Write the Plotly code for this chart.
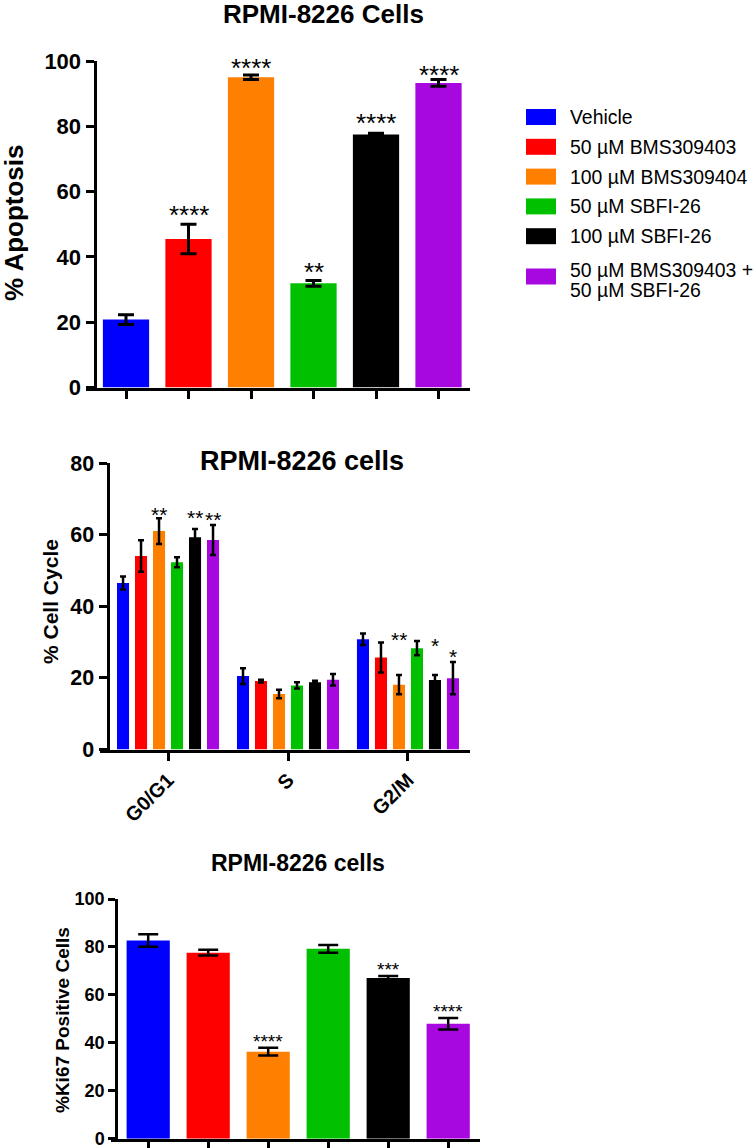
import plotly.graph_objects as go

W, H = 755, 1148
FONT = "Liberation Sans, Arial, Helvetica, sans-serif"

# ---------------- data ----------------
treatments = ["Vehicle", "50 µM BMS309403", "100 µM BMS309404",
              "50 µM SBFI-26", "100 µM SBFI-26",
              "50 µM BMS309403 +<br>50 µM SBFI-26"]
colors = ["#0000FF", "#FF0000", "#FF8000", "#00C000", "#000000", "#A808E0"]

# Panel 1: apoptosis
apoptosis_mean = [20.8, 45.5, 95.0, 31.9, 77.5, 93.3]
apoptosis_err = [1.5, 4.5, 0.7, 0.9, 0.4, 1.0]
apoptosis_sig = ["", "****", "****", "**", "****", "****"]
apoptosis_sig_y = [None, 54.6, 99.7, 37.2, 83.0, 97.4]

# Panel 2: cell cycle (values per phase G0/G1, S, G2/M)
phases = ["G0/G1", "S", "G2/M"]
cycle_vehicle = [46.5, 20.5, 30.8]
cycle_bms50 = [54.0, 19.1, 25.7]
cycle_bms100 = [61.0, 15.5, 18.1]
cycle_sbfi50 = [52.3, 17.9, 28.3]
cycle_sbfi100 = [59.3, 18.8, 19.4]
cycle_combo = [58.5, 19.5, 19.9]
cycle_vehicle_err = [1.8, 2.2, 1.6]
cycle_bms50_err = [4.4, 0.4, 4.2]
cycle_bms100_err = [3.6, 1.2, 2.7]
cycle_sbfi50_err = [1.4, 0.9, 2.0]
cycle_sbfi100_err = [2.3, 0.4, 1.4]
cycle_combo_err = [4.2, 1.6, 4.5]
cycle_sig = [["", "", ""], ["", "", ""], ["**", "", "**"],
             ["", "", ""], ["**", "", "*"], ["**", "", "*"]]
cycle_sig_y = [[None, None, None], [None, None, None], [66.9, None, 32.2],
               [None, None, None], [66.1, None, 30.4], [65.6, None, 27.3]]

# Panel 3: Ki67
ki67_mean = [82.7, 77.6, 36.3, 79.2, 67.0, 48.0]
ki67_err = [2.6, 1.2, 1.6, 1.6, 0.9, 2.4]
ki67_sig = ["", "", "****", "", "***", "****"]
ki67_sig_y = [None, None, 42.3, None, 72.4, 54.7]

cycle_means = [cycle_vehicle, cycle_bms50, cycle_bms100, cycle_sbfi50, cycle_sbfi100, cycle_combo]
cycle_errs = [cycle_vehicle_err, cycle_bms50_err, cycle_bms100_err,
              cycle_sbfi50_err, cycle_sbfi100_err, cycle_combo_err]

# ---------------- figure ----------------
def px_x(x):
    return x / W


def px_y(y):
    return 1 - y / H


fig = go.Figure()
idx = list(range(len(treatments)))

fig.add_trace(go.Bar(
    x=idx, y=apoptosis_mean, width=0.74, marker=dict(color=colors, line=dict(width=0)),
    error_y=dict(type="data", array=apoptosis_err, color="black", thickness=3, width=8),
    xaxis="x", yaxis="y", showlegend=False))

BARGAP, GROUPGAP = 0.1, 0.33
for i, name in enumerate(treatments):
    fig.add_trace(go.Bar(
        x=list(range(len(phases))), y=cycle_means[i], name=name,
        marker=dict(color=colors[i], line=dict(width=0)),
        error_y=dict(type="data", array=cycle_errs[i], color="black", thickness=2.5, width=3),
        xaxis="x2", yaxis="y2", showlegend=False))

fig.add_trace(go.Bar(
    x=idx, y=ki67_mean, width=0.72, marker=dict(color=colors, line=dict(width=0)),
    error_y=dict(type="data", array=ki67_err, color="black", thickness=2.5, width=10),
    xaxis="x3", yaxis="y3", showlegend=False))

ann = []
# significance stars
for i, s in enumerate(apoptosis_sig):
    if s:
        ann.append(dict(x=i, y=apoptosis_sig_y[i], xref="x", yref="y", text=s, showarrow=False,
                        yanchor="middle", yshift=-6, font=dict(size=26, color="black", family=FONT)))
slot = (1 - BARGAP) / len(treatments)
for i in range(len(treatments)):
    for p in range(len(phases)):
        s = cycle_sig[i][p]
        if s:
            xo = p - (1 - BARGAP) / 2 + slot * (i + 0.5)
            ann.append(dict(x=xo, y=cycle_sig_y[i][p], xref="x2", yref="y2", text=s, showarrow=False,
                            yanchor="middle", yshift=-5, font=dict(size=21, color="black", family=FONT)))
for i, s in enumerate(ki67_sig):
    if s:
        ann.append(dict(x=i, y=ki67_sig_y[i], xref="x3", yref="y3", text=s, showarrow=False,
                        yanchor="middle", yshift=-4, font=dict(size=19, color="black", family=FONT)))

# titles
ann.append(dict(x=px_x(323), y=px_y(14), xref="paper", yref="paper", text="<b>RPMI-8226 Cells</b>",
                showarrow=False, xanchor="center", yanchor="middle", font=dict(size=26, color="black", family=FONT)))
ann.append(dict(x=px_x(302), y=px_y(461), xref="paper", yref="paper", text="<b>RPMI-8226 cells</b>",
                showarrow=False, xanchor="center", yanchor="middle", font=dict(size=27, color="black", family=FONT)))
ann.append(dict(x=px_x(298), y=px_y(863), xref="paper", yref="paper", text="<b>RPMI-8226 cells</b>",
                showarrow=False, xanchor="center", yanchor="middle", font=dict(size=23, color="black", family=FONT)))

# y-axis titles
ann.append(dict(x=px_x(14), y=px_y(223), xref="paper", yref="paper", text="<b>% Apoptosis</b>", textangle=-90,
                showarrow=False, xanchor="center", yanchor="middle", font=dict(size=26, color="black", family=FONT)))
ann.append(dict(x=px_x(50), y=px_y(602), xref="paper", yref="paper", text="<b>% Cell Cycle</b>", textangle=-90,
                showarrow=False, xanchor="center", yanchor="middle", font=dict(size=21, color="black", family=FONT)))
ann.append(dict(x=px_x(62), y=px_y(1020), xref="paper", yref="paper", text="<b>%Ki67 Positive Cells</b>", textangle=-90,
                showarrow=False, xanchor="center", yanchor="middle", font=dict(size=19, color="black", family=FONT)))

# legend (swatches + labels)
shapes = []
row_y = 117
for i, name in enumerate(treatments):
    lines = name.split("<br>")
    extra = (len(lines) - 1) * 21
    cy = row_y + extra / 2
    shapes.append(dict(type="rect", xref="paper", yref="paper",
                       x0=px_x(526), x1=px_x(556), y0=px_y(cy - 8), y1=px_y(cy + 8),
                       fillcolor=colors[i], line=dict(width=0)))
    for k, ln in enumerate(lines):
        ly = cy + (k - (len(lines) - 1) / 2) * 20 + (3 if len(lines) > 1 else 0)
        ann.append(dict(x=px_x(568), y=px_y(ly), xref="paper", yref="paper", text=ln, showarrow=False,
                        xanchor="left", yanchor="middle", font=dict(size=19.4, color="black", family=FONT)))
    row_y += 29.8 + extra

axis_common = dict(showgrid=False, zeroline=False, showline=True, linecolor="black",
                   ticks="outside", tickcolor="black", automargin=False, ticklabeloverflow="allow")

fig.update_layout(
    width=W, height=H, margin=dict(l=0, r=0, t=0, b=0, pad=0, autoexpand=False),
    paper_bgcolor="white", plot_bgcolor="white",
    barmode="group", bargap=BARGAP, bargroupgap=GROUPGAP,
    font=dict(family=FONT, color="black"),
    showlegend=False,
    annotations=ann, shapes=shapes,
    xaxis=dict(domain=[px_x(86), px_x(470)], range=[-0.64, 5.504], anchor="y",
               tickvals=idx, showticklabels=False, linewidth=3, tickwidth=3, ticklen=8, **axis_common),
    yaxis=dict(domain=[px_y(387.5), px_y(61)], range=[0, 100], anchor="free", position=px_x(94.5),
               tickvals=[0, 20, 40, 60, 80, 100], linewidth=3, tickwidth=3, ticklen=8,
               tickfont=dict(size=22, weight="bold", family=FONT), **axis_common),
    xaxis2=dict(domain=[px_x(100), px_x(470)], range=[-0.567, 2.517], anchor="y2",
                tickvals=[0, 1, 2], ticktext=phases, tickangle=-45, linewidth=3, tickwidth=3, ticklen=8,
                tickfont=dict(size=20, weight="bold", family=FONT), **axis_common),
    yaxis2=dict(domain=[px_y(749.5), px_y(463)], range=[0, 80], anchor="free", position=px_x(107.5),
                tickvals=[0, 20, 40, 60, 80], linewidth=3, tickwidth=3, ticklen=8,
                tickfont=dict(size=21.5, weight="bold", family=FONT), **axis_common),
    xaxis3=dict(domain=[px_x(111), px_x(480)], range=[-0.62, 5.53], anchor="y3",
                tickvals=idx, showticklabels=False, linewidth=2.5, tickwidth=2.5, ticklen=7, **axis_common),
    yaxis3=dict(domain=[px_y(1138.7), px_y(899)], range=[0, 100], anchor="free", position=px_x(116),
                tickvals=[0, 20, 40, 60, 80, 100], linewidth=2.5, tickwidth=2.5, ticklen=7,
                tickfont=dict(size=18, weight="bold", family=FONT), **axis_common),
)

fig.write_html("out.html", config={"displayModeBar": False},
               post_script="document.body.style.margin='0';document.body.style.overflow='hidden';")
